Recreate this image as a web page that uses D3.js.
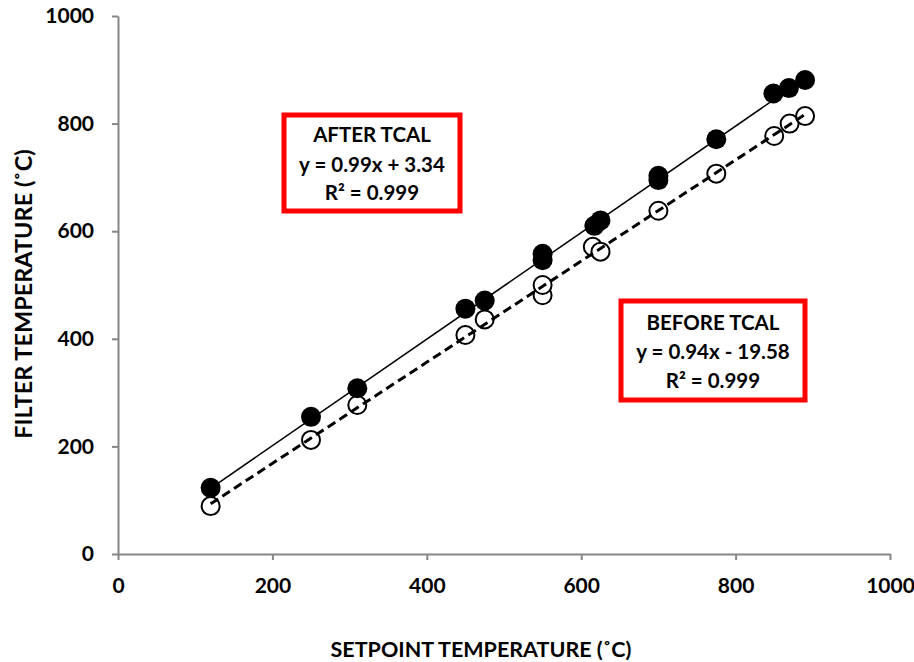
<!DOCTYPE html>
<html>
<head>
<meta charset="utf-8">
<script src="https://cdn.jsdelivr.net/npm/d3@7"></script>
<style>
  body { margin: 0; background: #fff; }
  svg { display: block; font-family: Lato, "Open Sans", sans-serif; }
</style>
</head>
<body>
<div id="chart"></div>
<script>
// Setpoint temperatures (x) and measured filter temperatures (y)
const afterSetpoint = [120, 250, 310, 450, 475, 550, 550, 617, 625, 700, 700, 775, 849, 869, 890];
const afterFilter   = [123, 255, 308, 456, 471, 546, 558, 610, 620, 695, 703, 771, 856, 866, 881];
const beforeSetpoint = [120, 250, 310, 450, 475, 550, 550, 615, 625, 700, 775, 850, 870, 890];
const beforeFilter   = [89, 212, 277, 407, 436, 481, 500, 571, 562, 638, 707, 777, 800, 814];
const afterFit = { slope: 0.99, intercept: 3.34 };
const beforeFit = { slope: 0.94, intercept: -19.58 };
const fitRange = [120, 890];
const xTicks = [0, 200, 400, 600, 800, 1000];
const yTicks = [0, 200, 400, 600, 800, 1000];
const afterLabel = ["AFTER TCAL", "y = 0.99x + 3.34", "R² = 0.999"];
const beforeLabel = ["BEFORE TCAL", "y = 0.94x - 19.58", "R² = 0.999"];

const W = 914, H = 662;
const svg = d3.select("#chart").append("svg").attr("width", W).attr("height", H);

const x = d3.scaleLinear().domain([0, 1000]).range([118, 890]);
const y = d3.scaleLinear().domain([0, 1000]).range([554, 16]);
const axisColor = "#868686";

// Axes
const xAxis = svg.append("g").attr("transform", `translate(0,${y(0)})`)
  .call(d3.axisBottom(x).tickValues(xTicks).tickFormat(d3.format("d")).tickSize(6).tickSizeOuter(0).tickPadding(18));
const yAxis = svg.append("g").attr("transform", `translate(${x(0)},0)`)
  .call(d3.axisLeft(y).tickValues(yTicks).tickFormat(d3.format("d")).tickSize(6).tickSizeOuter(0).tickPadding(18));

[xAxis, yAxis].forEach(a => {
  a.select(".domain").attr("stroke", axisColor).attr("stroke-width", 2);
  a.selectAll(".tick line").attr("stroke", axisColor).attr("stroke-width", 2);
  a.selectAll("text").style("font-family", "Lato, sans-serif").style("font-size", "21px")
    .style("font-weight", "700").attr("fill", "#000");
});

// Axis titles
svg.append("text").attr("x", 481).attr("y", 657).attr("text-anchor", "middle")
  .style("font-size", "21.5px").style("font-weight", "700").text("SETPOINT TEMPERATURE (˚C)");
svg.append("text").attr("transform", "translate(32,294) rotate(-90)").attr("text-anchor", "middle")
  .style("font-size", "23.5px").style("font-weight", "700").text("FILTER TEMPERATURE (˚C)");

// Points
const afterPts = afterSetpoint.map((v, i) => [v, afterFilter[i]]);
const beforePts = beforeSetpoint.map((v, i) => [v, beforeFilter[i]]);

svg.append("g").selectAll("circle").data(beforePts).join("circle")
  .attr("cx", d => x(d[0])).attr("cy", d => y(d[1])).attr("r", 9)
  .attr("fill", "#fff").attr("stroke", "#000").attr("stroke-width", 2);

svg.append("g").selectAll("circle").data(afterPts).join("circle")
  .attr("cx", d => x(d[0])).attr("cy", d => y(d[1])).attr("r", 10)
  .attr("fill", "#000");

// Trendlines
const line = fit => d3.line().x(d => x(d)).y(d => y(fit.slope * d + fit.intercept));
svg.append("path").datum(fitRange).attr("d", line(afterFit))
  .attr("stroke", "#000").attr("stroke-width", 1.5).attr("fill", "none");
svg.append("path").datum(fitRange).attr("d", line(beforeFit))
  .attr("stroke", "#000").attr("stroke-width", 3).attr("stroke-dasharray", "9,5").attr("fill", "none");

// Annotation boxes
function labelBox(lines, x0, y0, w, h, baselines) {
  const g = svg.append("g");
  g.append("rect").attr("x", x0).attr("y", y0).attr("width", w).attr("height", h)
    .attr("fill", "#fff").attr("stroke", "#ff0000").attr("stroke-width", 5);
  lines.forEach((t, i) => {
    g.append("text").attr("x", x0 + w / 2).attr("y", baselines[i]).attr("text-anchor", "middle")
      .style("font-size", "20.5px").style("font-weight", "700").text(t);
  });
}
labelBox(afterLabel, 284, 115, 176, 96, [142, 172, 200]);
labelBox(beforeLabel, 621, 301, 184, 99, [330, 359, 388]);
</script>
</body>
</html>
